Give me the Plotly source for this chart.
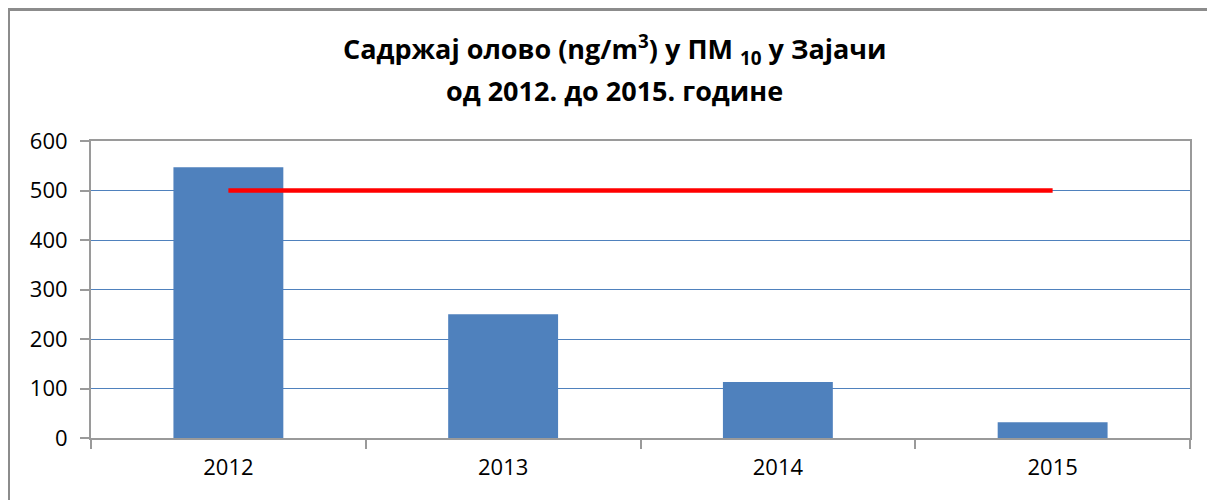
import plotly.graph_objects as go

years = ["2012", "2013", "2014", "2015"]
lead_values = [547, 250, 113, 32]
limit_values = [500, 500, 500, 500]
y_ticks = [0, 100, 200, 300, 400, 500, 600]
title_line1 = "<b>Садржај олово (ng/m<sup>3</sup>) у ПМ <sub>10</sub> у Зајачи</b>"
title_line2 = "<b>од 2012. до 2015. године</b>"

# page body has an 8px margin; size the figure to fit the 1215x500 window
OFF = 8
W, H = 1215 - OFF, 500 - OFF
ML, MR, MT, MB = 91 - OFF, 25, 141 - OFF, 62
pw, ph = W - ML - MR, H - MT - MB

def px_x(p):
    return (p - OFF - ML) / pw

def px_y(p):
    return (H - MB - (p - OFF)) / ph

FONT = "Open Sans"

fig = go.Figure()
fig.add_trace(go.Bar(x=years, y=lead_values, marker_color="#4F81BD",
                     marker_line_width=0, width=0.4))
fig.add_trace(go.Scatter(x=years, y=limit_values, mode="lines",
                         line=dict(color="#FF0000", width=4.5)))

fig.update_layout(
    width=W, height=H,
    margin=dict(l=ML, r=MR, t=MT, b=MB),
    paper_bgcolor="white", plot_bgcolor="white",
    showlegend=False,
    font=dict(family=FONT, color="#000000", size=22),
    xaxis=dict(
        type="category", range=[-0.5, 3.5],
        tickson="boundaries", ticks="outside", ticklen=9, tickcolor="#9A9A9A",
        tickwidth=2,
        showline=True, linecolor="#9A9A9A", linewidth=2, mirror=True,
        showgrid=False,
        ticklabelstandoff=9,
        tickfont=dict(family=FONT, size=22, color="#000000"),
    ),
    yaxis=dict(
        range=[0, 600], tickvals=y_ticks,
        ticks="outside", ticklen=9, tickcolor="#9A9A9A", tickwidth=2,
        showline=True, linecolor="#9A9A9A", linewidth=2, mirror=True,
        showgrid=True, gridcolor="#4F81BD", gridwidth=1,
        zeroline=False,
        ticklabelstandoff=8,
        tickfont=dict(family=FONT, size=22, color="#000000"),
    ),
    annotations=[
        dict(text=title_line1, xref="paper", yref="paper",
             x=px_x(614), y=px_y(49), xanchor="center", yanchor="middle",
             showarrow=False, font=dict(family=FONT, size=27, color="#000000")),
        dict(text=title_line2, xref="paper", yref="paper",
             x=px_x(614), y=px_y(90), xanchor="center", yanchor="middle",
             showarrow=False, font=dict(family=FONT, size=27, color="#000000")),
    ],
    shapes=[
        dict(type="line", xref="paper", yref="paper",
             x0=px_x(8), x1=px_x(1216), y0=px_y(9.5), y1=px_y(9.5),
             line=dict(color="#8C8C8C", width=3)),
        dict(type="line", xref="paper", yref="paper",
             x0=px_x(8.5), x1=px_x(8.5), y0=px_y(9), y1=px_y(501),
             line=dict(color="#8C8C8C", width=3)),
    ],
)

fig.write_html("out.html")
